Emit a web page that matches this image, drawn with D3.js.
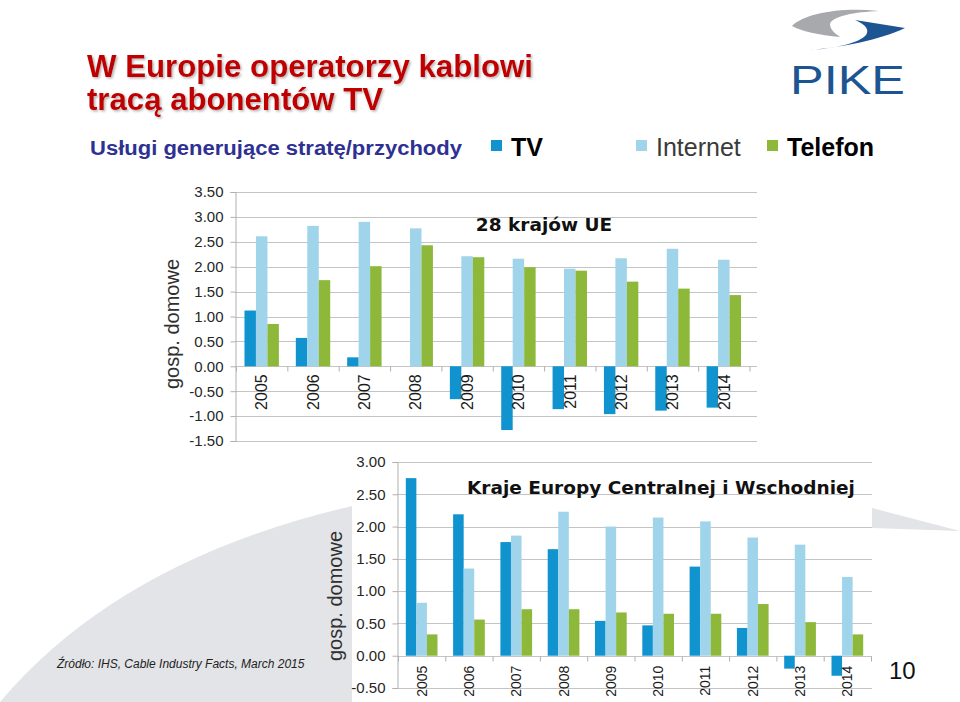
<!DOCTYPE html>
<html>
<head>
<meta charset="utf-8">
<script src="https://cdnjs.cloudflare.com/ajax/libs/d3/7.8.5/d3.min.js"></script>
<style>
  html, body { margin: 0; padding: 0; background: #ffffff; }
  svg { display: block; }
</style>
</head>
<body>
<svg id="chart" width="960" height="702"></svg>
<script>
// ---------- data ----------
const years = ['2005','2006','2007','2008','2009','2010','2011','2012','2013','2014'];
const seriesNames = ['TV','Internet','Telefon'];
const seriesColors = ['#1093cf','#9fd4ea','#8db83a'];

const euTV       = [1.12, 0.57, 0.18, 0.00, -0.66, -1.28, -0.86, -0.96, -0.89, -0.83];
const euInternet = [2.61, 2.82, 2.90, 2.77, 2.21, 2.16, 1.96, 2.17, 2.36, 2.14];
const euTelefon  = [0.85, 1.73, 2.01, 2.43, 2.19, 1.99, 1.92, 1.70, 1.56, 1.43];

const ceeTV       = [2.75, 2.19, 1.76, 1.65, 0.54, 0.47, 1.38, 0.43, -0.20, -0.31];
const ceeInternet = [0.82, 1.35, 1.86, 2.23, 2.00, 2.14, 2.08, 1.83, 1.72, 1.22];
const ceeTelefon  = [0.33, 0.56, 0.72, 0.72, 0.67, 0.65, 0.65, 0.80, 0.52, 0.33];

const euTicks  = [3.5, 3.0, 2.5, 2.0, 1.5, 1.0, 0.5, 0.0, -0.5, -1.0, -1.5];
const ceeTicks = [3.0, 2.5, 2.0, 1.5, 1.0, 0.5, 0.0, -0.5];

const titleLine1 = 'W Europie operatorzy kablowi';
const titleLine2 = 'tracą abonentów TV';
const subtitle = 'Usługi generujące stratę/przychody';
const euTitle = '28 krajów UE';
const ceeTitle = 'Kraje Europy Centralnej i Wschodniej';
const yTitle = 'gosp. domowe';
const sourceText = 'Źródło: IHS, Cable Industry Facts, March 2015';
const pageNumber = '10';
const logoText = 'PIKE';

// ---------- drawing ----------
const svg = d3.select('#chart');
const defs = svg.append('defs');
const f = defs.append('filter').attr('id','shadow').attr('x','-5%').attr('y','-20%').attr('width','110%').attr('height','150%');
f.append('feDropShadow').attr('dx',1.5).attr('dy',1.5).attr('stdDeviation',1.2)
  .attr('flood-color','#777').attr('flood-opacity',0.55);

// background gray swoosh shapes
svg.append('path').attr('d','M0,702 Q120,560 352,506 L352,702 Z').attr('fill','#e2e4e7');
svg.append('path').attr('d','M872,508 L960,531 L872,528 Z').attr('fill','#e2e4e7');
svg.append('rect').attr('x',352).attr('y',447).attr('width',520).attr('height',255).attr('fill','#ffffff');

// title
const tg = svg.append('g').attr('filter','url(#shadow)');
tg.append('text').attr('x',87).attr('y',77).text(titleLine1)
  .attr('font-family','"Liberation Sans", Arial, sans-serif').attr('font-weight','bold')
  .attr('font-size',31).attr('fill','#c00000')
  .attr('textLength',446).attr('lengthAdjust','spacingAndGlyphs');
tg.append('text').attr('x',87).attr('y',110).text(titleLine2)
  .attr('font-family','"Liberation Sans", Arial, sans-serif').attr('font-weight','bold')
  .attr('font-size',31).attr('fill','#c00000')
  .attr('textLength',296).attr('lengthAdjust','spacingAndGlyphs');

// subtitle
svg.append('text').attr('x',90).attr('y',155).text(subtitle)
  .attr('font-family','"Liberation Sans", Arial, sans-serif').attr('font-weight','bold')
  .attr('font-size',20).attr('fill','#2e3192')
  .attr('textLength',372).attr('lengthAdjust','spacingAndGlyphs');

// legend
const legendX = [491, 636, 767];
const legendWeights = ['bold','normal','bold'];
const legendColors = ['#000000','#3a3a3a','#000000'];
seriesNames.forEach((s,i) => {
  svg.append('rect').attr('x',legendX[i]).attr('y',140).attr('width',11).attr('height',11).attr('fill',seriesColors[i]);
  svg.append('text').attr('x',legendX[i]+20).attr('y',156).text(s)
    .attr('font-family','"Liberation Sans", Arial, sans-serif').attr('font-weight',legendWeights[i])
    .attr('font-size',25).attr('fill',legendColors[i]);
});

// logo
svg.append('path').attr('d','M792,26 C805,13 842,7 879,11 C855,12 832,16 830,24 C830,30 836,34 840,37 C820,35 800,31 792,26 Z').attr('fill','#a7a9ac');
svg.append('path').attr('d','M810,50 C842,47 880,40 905,28 L855,20 C870,26 872,35 857,41 C845,46 826,49 810,50 Z').attr('fill','#1d5593');
svg.append('text').attr('x',790).attr('y',94).text(logoText)
  .attr('font-family','"Liberation Sans", Arial, sans-serif').attr('font-size',41).attr('fill','#1d5593')
  .attr('textLength',115).attr('lengthAdjust','spacingAndGlyphs');

function drawChart(cfg) {
  const g = svg.append('g');
  const y = d3.scaleLinear().domain(cfg.domain).range(cfg.yRange);
  const x0 = d3.scaleBand().domain(years).range(cfg.xRange).paddingInner(0.33).paddingOuter(0.165);
  const x1 = d3.scaleBand().domain(seriesNames).range([0, x0.bandwidth()]);
  const xb = d3.scaleLinear().domain([0, years.length]).range(cfg.xRange);

  // gridlines
  g.append('g').selectAll('line').data(cfg.ticks).join('line')
    .attr('x1', cfg.axisX).attr('x2', cfg.gridEnd)
    .attr('y1', d => Math.round(y(d)) + 0.5).attr('y2', d => Math.round(y(d)) + 0.5)
    .attr('stroke', '#c4c4c4').attr('stroke-width', 1);

  // y axis
  const ya = g.append('g').attr('transform', `translate(${cfg.axisX + 0.5},0)`)
    .call(d3.axisLeft(y).tickValues(cfg.ticks).tickFormat(d => d.toFixed(2)).tickSize(5).tickPadding(7));
  ya.select('.domain').attr('stroke', '#b0b0b0');
  ya.selectAll('.tick line').attr('stroke', '#b0b0b0');
  ya.selectAll('text').attr('font-family','"Liberation Sans", Arial, sans-serif').attr('font-size',15).attr('fill','#262626');

  // bars
  const data = years.map((yr, i) => ({ yr, vals: cfg.series.map((arr, k) => ({ s: seriesNames[k], v: arr[i], c: seriesColors[k] })) }));
  g.append('g').selectAll('g').data(data).join('g')
    .attr('transform', d => `translate(${x0(d.yr)},0)`)
    .selectAll('rect').data(d => d.vals).join('rect')
    .attr('x', d => x1(d.s)).attr('width', x1.bandwidth())
    .attr('y', d => Math.min(y(0), y(d.v))).attr('height', d => Math.abs(y(d.v) - y(0)))
    .attr('fill', d => d.c);

  // x axis ticks at boundaries
  const xt = g.append('g').attr('transform', `translate(0,${Math.round(y(0)) + 0.5})`)
    .call(d3.axisBottom(xb).tickValues(d3.range(years.length + 1)).tickFormat('').tickSize(5).tickSizeOuter(0));
  xt.select('.domain').remove();
  xt.selectAll('.tick line').attr('stroke', '#b0b0b0');

  // x labels
  const xl = g.append('g').attr('transform', `translate(0,${y(0)})`)
    .call(d3.axisBottom(x0).tickSize(0).tickPadding(0));
  xl.select('.domain').remove();
  xl.selectAll('text')
    .attr('transform', 'rotate(-90)').attr('x', -cfg.labelGap).attr('y', 0).attr('dy', '0.36em')
    .style('text-anchor', 'end')
    .attr('font-family','"Liberation Sans", Arial, sans-serif').attr('font-size', cfg.labelSize).attr('fill', '#1a1a1a');

  // y title
  g.append('text').attr('transform', `translate(${cfg.yTitlePos[0]},${cfg.yTitlePos[1]}) rotate(-90)`)
    .attr('text-anchor','middle').text(yTitle)
    .attr('font-family','"Liberation Sans", Arial, sans-serif').attr('font-size',20).attr('fill','#303030');

  // chart title
  g.append('text').attr('x', cfg.titlePos[0]).attr('y', cfg.titlePos[1]).attr('text-anchor', cfg.titleAnchor)
    .text(cfg.title)
    .attr('font-family','"DejaVu Sans", Verdana, sans-serif').attr('font-weight','bold').attr('font-size',18.5).attr('fill','#111');
}

drawChart({
  domain: [-1.5, 3.5], yRange: [441, 192], xRange: [236, 749.5], axisX: 235, gridEnd: 757,
  ticks: euTicks, series: [euTV, euInternet, euTelefon], labelGap: 8, labelSize: 16,
  yTitlePos: [179, 324], title: euTitle, titlePos: [544, 231], titleAnchor: 'middle'
});

drawChart({
  domain: [-0.5, 3.0], yRange: [688, 462], xRange: [398, 871], axisX: 397, gridEnd: 872,
  ticks: ceeTicks, series: [ceeTV, ceeInternet, ceeTelefon], labelGap: 10, labelSize: 14,
  yTitlePos: [342, 596], title: ceeTitle, titlePos: [467, 494], titleAnchor: 'start'
});

// footer
svg.append('text').attr('x',57).attr('y',668).text(sourceText)
  .attr('font-family','"Liberation Sans", Arial, sans-serif').attr('font-style','italic')
  .attr('font-size',12).attr('fill','#222');
svg.append('text').attr('x',889).attr('y',679).text(pageNumber)
  .attr('font-family','"Liberation Sans", Arial, sans-serif').attr('font-size',24).attr('fill','#111');
</script>
</body>
</html>
